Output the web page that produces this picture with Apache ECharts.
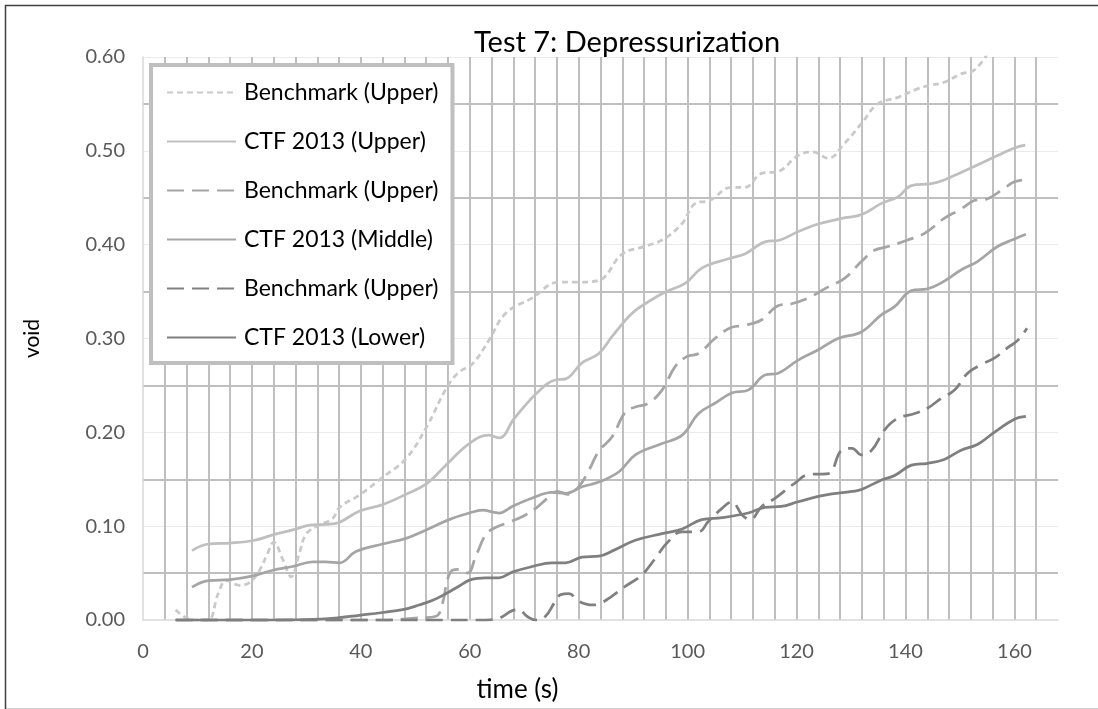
<!DOCTYPE html>
<html>
<head>
<meta charset="utf-8">
<script src="https://cdn.jsdelivr.net/npm/echarts@6/dist/echarts.min.js"></script>
<style>
html,body{margin:0;padding:0;background:#fff;}
#chart{width:1098px;height:709px;}
</style>
</head>
<body>
<div id="chart"></div>
<script>
// ---- data (time s, void) ----
const seriesNames = ['Benchmark (Upper)', 'CTF 2013 (Upper)', 'Benchmark (Upper)', 'CTF 2013 (Middle)', 'Benchmark (Upper)', 'CTF 2013 (Lower)'];
const xTickLabels = [0, 20, 40, 60, 80, 100, 120, 140, 160];
const yTickLabels = ['0.00', '0.10', '0.20', '0.30', '0.40', '0.50', '0.60'];

const benchUpper = [[6,0.011],[8,0.002],[10,0],[12,0.0],[13.8,0.028],[15.3,0.042],[17.7,0.037],[19.6,0.040],[21.4,0.053],[22.8,0.070],[24,0.083],[25.7,0.064],[27.2,0.046],[28.7,0.071],[30,0.092],[32.3,0.101],[34.8,0.108],[36.1,0.120],[39.7,0.133],[44,0.152],[48.3,0.172],[52,0.205],[55.8,0.248],[58,0.264],[60.5,0.273],[63.5,0.298],[66.6,0.327],[71.4,0.343],[76.3,0.360],[80,0.360],[83.7,0.362],[88,0.390],[92,0.398],[95.3,0.405],[98.9,0.422],[101.4,0.444],[104,0.447],[108,0.461],[110.5,0.461],[113.6,0.476],[116.6,0.478],[120.3,0.495],[123,0.499],[125.8,0.492],[128.8,0.508],[131.9,0.529],[134.9,0.550],[138.6,0.557],[142.2,0.566],[144.7,0.570],[147.1,0.573],[150.2,0.582],[152.6,0.586],[155,0.603]];

const ctfUpper = [[9,0.074],[12,0.081],[16,0.082],[20.5,0.085],[24,0.091],[27.5,0.096],[30.6,0.101],[33.6,0.102],[36,0.104],[39.7,0.116],[44,0.123],[48.3,0.134],[52,0.145],[55.6,0.165],[59.9,0.188],[63.5,0.197],[65.4,0.194],[68.2,0.215],[72.5,0.243],[75.8,0.256],[77.6,0.257],[80.6,0.274],[83.7,0.284],[86.1,0.302],[89.8,0.327],[93,0.340],[96.1,0.350],[99.6,0.359],[102.6,0.375],[107.5,0.385],[110.5,0.390],[114.2,0.403],[117,0.405],[120.3,0.414],[124,0.422],[128.3,0.428],[131.9,0.432],[135.6,0.444],[138.6,0.451],[141.1,0.463],[144.7,0.465],[147.1,0.469],[150.2,0.477],[153.2,0.485],[156.9,0.495],[160,0.503],[162,0.506]];

const benchMiddle = [[6,0],[20,0],[35,0],[45,0],[50,0.002],[53.8,0.004],[55,0.018],[55.9,0.043],[56.8,0.053],[58,0.054],[59.6,0.050],[61.1,0.068],[62.9,0.091],[64.2,0.097],[66.6,0.103],[69.6,0.110],[72.1,0.119],[74.5,0.131],[76.1,0.137],[77.9,0.134],[80,0.142],[81.9,0.160],[83.7,0.180],[86.1,0.195],[88.6,0.222],[90.4,0.227],[92.8,0.231],[95.3,0.245],[97.7,0.270],[99.9,0.281],[102,0.284],[105,0.300],[108.1,0.312],[110.5,0.314],[113.6,0.320],[116.6,0.335],[119.1,0.337],[122.1,0.343],[125.8,0.355],[128.8,0.364],[131.9,0.382],[134.3,0.394],[136.8,0.398],[140.4,0.405],[143.5,0.412],[147.1,0.428],[150.2,0.438],[152.6,0.447],[155.1,0.449],[158.1,0.460],[160,0.467],[162.1,0.469]];

const ctfMiddle = [[9,0.035],[12,0.042],[16,0.043],[20.2,0.047],[23.8,0.053],[27.5,0.057],[31.2,0.062],[33.6,0.062],[36.1,0.061],[39.1,0.073],[44,0.081],[48.3,0.087],[52,0.096],[56.2,0.107],[59.9,0.114],[62.3,0.117],[65.4,0.114],[67.8,0.121],[71.5,0.130],[75.1,0.136],[77.6,0.135],[80.6,0.142],[83.7,0.147],[87.4,0.158],[90.4,0.176],[95.3,0.188],[99,0.197],[102,0.220],[105,0.231],[108.1,0.242],[111.1,0.245],[114.2,0.261],[116.6,0.263],[120.3,0.277],[124,0.288],[127.6,0.300],[131.9,0.307],[135.5,0.325],[138,0.334],[141.1,0.351],[144.1,0.353],[146.5,0.359],[150.2,0.373],[153.2,0.382],[156.9,0.398],[160,0.406],[162.1,0.411]];

const benchLower = [[6,0],[20,0],[40,0],[55,0],[62.9,0],[65.4,0.002],[67.8,0.010],[69,0.011],[70.5,0.004],[72.1,0],[73.9,0.004],[75.5,0.018],[76.7,0.027],[78.2,0.028],[80,0.020],[82.5,0.016],[83.7,0.017],[86,0.025],[88.6,0.036],[91.6,0.048],[94.1,0.066],[96.2,0.082],[98.9,0.094],[102,0.094],[103.8,0.105],[106.3,0.119],[108.1,0.126],[110,0.112],[111.5,0.107],[113.6,0.121],[116.1,0.130],[119.7,0.146],[122.2,0.155],[125.8,0.156],[128.3,0.181],[130.2,0.183],[131.9,0.176],[133.8,0.181],[136.2,0.203],[138.6,0.215],[141.7,0.220],[144.1,0.226],[146.5,0.236],[149,0.245],[151.4,0.263],[153.8,0.272],[156.3,0.279],[158.7,0.290],[160.6,0.298],[162.3,0.311]];

const ctfLower = [[6,0],[20,0],[30,0.0005],[36,0.0025],[39.7,0.005],[44,0.008],[47.7,0.011],[50.7,0.016],[53.2,0.021],[55.6,0.028],[58,0.036],[60.2,0.043],[62.9,0.045],[65.4,0.045],[67.8,0.051],[71.5,0.057],[75.1,0.061],[77.6,0.061],[80.6,0.067],[83.7,0.068],[86.7,0.075],[90.4,0.085],[95.3,0.092],[99,0.097],[102.6,0.107],[106.3,0.109],[111.1,0.114],[114.2,0.120],[117.2,0.121],[120.3,0.126],[125.2,0.133],[130.2,0.137],[131.9,0.139],[135.5,0.149],[138,0.154],[141.1,0.165],[144.1,0.167],[147.1,0.171],[150.2,0.181],[153.2,0.187],[156.3,0.200],[160,0.214],[162.1,0.217]];

// ---- styles ----
const FONT = 'Lato';
const seriesData = [benchUpper, ctfUpper, benchMiddle, ctfMiddle, benchLower, ctfLower];
const seriesColors = ['#c9c9c9', '#bfbfbf', '#a5a5a5', '#a5a5a5', '#808080', '#7f7f7f'];
const seriesDash = [[6, 4], 'solid', [17, 8], 'solid', [17, 8], 'solid'];
// legend needs distinct keys: add trailing spaces (invisible)
const legendKeys = seriesNames.map((n, i) => n + ' '.repeat(i));

const X_MAX = 168, GRID_STEP = 4;
const vColors = [];
for (let v = 0; v <= X_MAX; v += GRID_STEP) vColors.push(v === 0 || v === X_MAX ? 'rgba(0,0,0,0)' : '#bfbfbf');
const hColors = ['rgba(0,0,0,0)', '#ebebeb', '#ebebeb', '#ebebeb', '#ebebeb', '#ebebeb', '#ebebeb'];

const chart = echarts.init(document.getElementById('chart'), null, {renderer: 'canvas'});
chart.setOption({
  animation: false,
  backgroundColor: '#fff',
  title: {
    text: 'Test 7: Depressurization',
    left: 469, top: 23,
    textStyle: {fontFamily: FONT, fontSize: 29, fontWeight: 'normal', color: '#000'}
  },
  grid: {left: 143, right: 40, top: 57, bottom: 89, containLabel: false},
  legend: {
    orient: 'vertical', left: 151, top: 65,
    backgroundColor: '#fff', borderColor: '#bfbfbf', borderWidth: 4,
    padding: [16, 14, 14, 15],
    itemWidth: 69, itemHeight: 23, itemGap: 26,
    selectedMode: false,
    itemStyle: {opacity: 0},
    textStyle: {fontFamily: FONT, fontSize: 23, color: '#000', padding: [0, 0, 0, 3]},
    data: legendKeys,
    formatter: n => n.trim()
  },
  xAxis: [{
    type: 'value', min: 0, max: X_MAX, interval: 20,
    name: 'time (s)', nameLocation: 'middle', nameGap: 57,
    nameTextStyle: {fontFamily: FONT, fontSize: 26, color: '#000', padding: [0, 166, 0, 0]},
    axisLine: {show: true, lineStyle: {color: '#d9d9d9', width: 1.5}},
    axisTick: {show: false},
    axisLabel: {fontFamily: FONT, fontSize: 20, color: '#595959', margin: 22,
      formatter: v => (xTickLabels.indexOf(v) >= 0 ? String(v) : '')},
    splitLine: {show: false}
  }, {
    type: 'value', min: 0, max: X_MAX, interval: GRID_STEP, position: 'top',
    axisLine: {show: false}, axisTick: {show: false}, axisLabel: {show: false},
    splitLine: {show: true, lineStyle: {color: vColors, width: 2}}
  }],
  yAxis: {
    type: 'value', min: 0, max: 0.6, interval: 0.1,
    name: 'void', nameLocation: 'middle', nameGap: 100, nameRotate: 90,
    nameTextStyle: {fontFamily: FONT, fontSize: 21, color: '#000'},
    axisLine: {show: true, lineStyle: {color: '#d9d9d9', width: 1.5}},
    axisTick: {show: false},
    axisLabel: {fontFamily: FONT, fontSize: 20, color: '#595959', margin: 18,
      formatter: v => yTickLabels[Math.round(v * 10)]},
    splitLine: {show: true, lineStyle: {color: hColors, width: 1}},
    minorTick: {show: false, splitNumber: 2},
    minorSplitLine: {show: true, lineStyle: {color: '#bfbfbf', width: 2}}
  },
  series: seriesData.map((d, i) => ({
    name: legendKeys[i],
    type: 'line',
    xAxisIndex: 0,
    data: d,
    symbol: 'none',
    smooth: 0.4,
    clip: true,
    lineStyle: {color: seriesColors[i], width: 2.75, type: seriesDash[i]},
    itemStyle: {color: seriesColors[i]},
    z: 3 + i
  })),
  graphic: [{
    type: 'rect', left: 3, top: 3, z: 100, silent: true,
    shape: {width: 1110, height: 704},
    style: {fill: 'none', stroke: '#404040', lineWidth: 1.5}
  }]
});
</script>
</body>
</html>
